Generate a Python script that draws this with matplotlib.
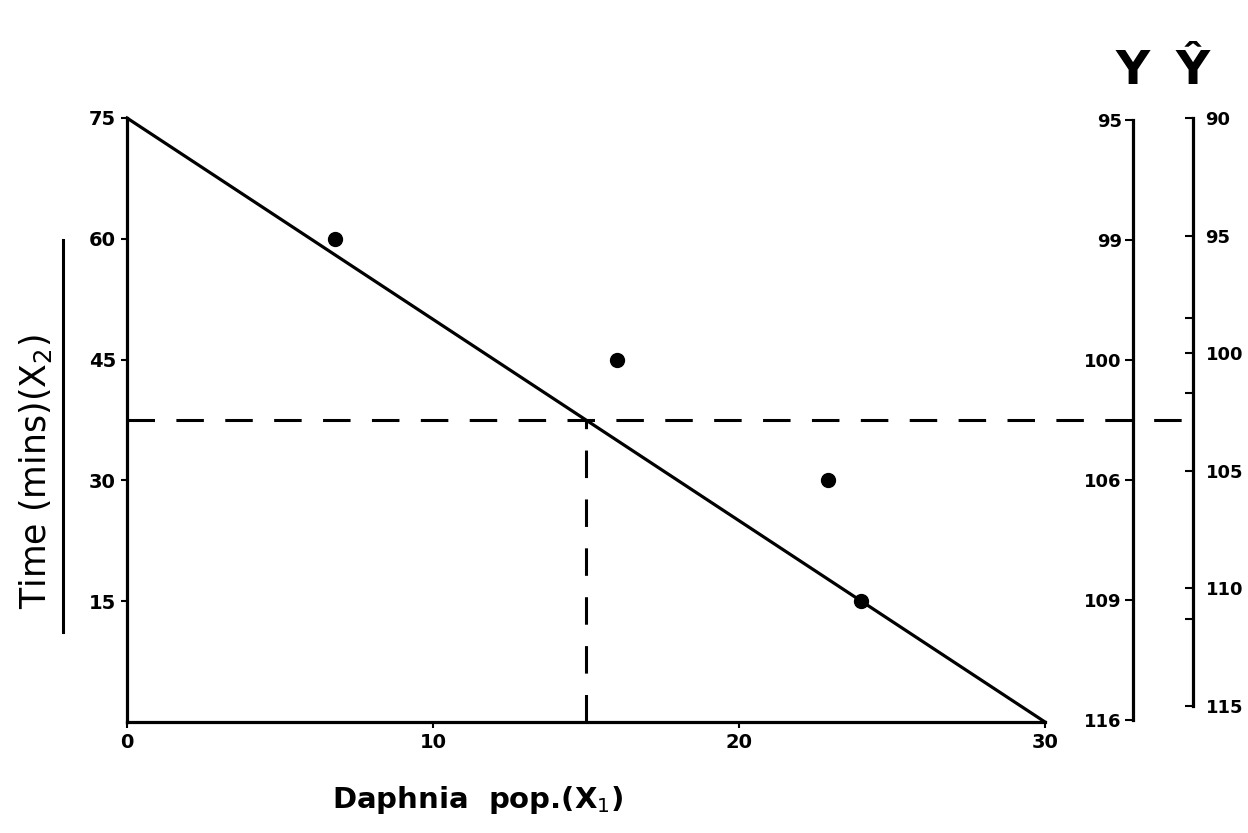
import matplotlib
matplotlib.use("Agg")
import matplotlib.pyplot as plt
import numpy as np

# ---- data ----
line_x = [0, 30]          # Daphnia pop. intercepts
line_y = [75, 0]          # Time intercepts
pts_x = [6.8, 16.0, 22.9, 24.0]
pts_y = [60, 45, 30, 15]
x_star = 15
y_star = 37.5
x_ticks = [0, 10, 20, 30]
y_ticks = [15, 30, 45, 60, 75]
Y_labels = ["95", "99", "100", "106", "109", "116"]
Yhat_ticks = [90, 95, 100, 105, 110, 115]
Yhat_minor = [98.5, 101.7, 111.3]

plt.rcParams['font.family'] = ['DejaVu Sans']
fig = plt.figure(figsize=(12.48, 8.33), dpi=100)
W, H = 1248, 833

def fx(p): return p / W
def fy(p): return 1 - p / H

lw = 2.3
ax = fig.add_axes([fx(127), fy(722), fx(1045) - fx(127), fy(118) - fy(722)])
ax.set_xlim(0, 30)
ax.set_ylim(0, 75)
for s in ["top", "right"]:
    ax.spines[s].set_visible(False)
for s in ["left", "bottom"]:
    ax.spines[s].set_linewidth(lw)
ax.set_xticks(x_ticks)
ax.set_yticks(y_ticks)
ax.tick_params(axis="both", length=4, width=1.5, labelsize=14, pad=4)
for t in ax.get_xticklabels() + ax.get_yticklabels():
    t.set_fontweight("bold")

ax.plot(line_x, line_y, color="black", lw=lw, clip_on=False)
ax.plot(pts_x, pts_y, "o", color="black", ms=10, clip_on=False)

# Y axis
axY = fig.add_axes([fx(1133), fy(720), 0.0001, fy(120) - fy(720)])
axY.set_ylim(len(Y_labels) - 1, 0)
axY.set_xticks([])
axY.set_yticks(range(len(Y_labels)))
axY.set_yticklabels(Y_labels, fontweight="bold", fontsize=13)
for s in ["top", "right", "bottom"]:
    axY.spines[s].set_visible(False)
axY.spines["left"].set_linewidth(lw)
axY.tick_params(axis="y", length=6, width=1.5, pad=2)
axY.patch.set_visible(False)

# Y-hat axis
axH = fig.add_axes([fx(1193), fy(706), 0.0001, fy(118) - fy(706)])
axH.set_ylim(115, 90)
axH.set_xticks([])
axH.set_yticks(Yhat_ticks)
axH.set_yticks(Yhat_minor, minor=True)
axH.set_yticklabels([str(v) for v in Yhat_ticks], fontweight="bold", fontsize=13)
for s in ["top", "right", "bottom"]:
    axH.spines[s].set_visible(False)
axH.spines["left"].set_linewidth(lw)
axH.tick_params(axis="y", which="both", left=True, right=False,
                labelleft=False, labelright=True, length=6, width=1.5, pad=3)
axH.patch.set_visible(False)

# dashed construction lines
fig.canvas.draw()
x_end = ax.transData.inverted().transform(fig.transFigure.transform((fx(1193), 0)))[0]
dash = (0, (9, 7))
ax.plot([0, x_end], [y_star, y_star], color="black", lw=2.2, ls=dash, clip_on=False)
ax.plot([x_star, x_star], [0, y_star], color="black", lw=2.2, ls=dash, clip_on=False)

# titles
fig.text(fx(1133), fy(72), "Y", ha="center", va="center", fontsize=34, fontweight="bold")
fig.text(fx(1193), fy(72), "\u0176", ha="center", va="center", fontsize=34, fontweight="bold")

fig.text(fx(36), fy(472), "Time (mins)(X$_2$)", rotation=90, ha="center", va="center",
         fontsize=25)
fig.add_artist(plt.Line2D([fx(63), fx(63)], [fy(632), fy(240)], color="black", lw=2.2,
                          transform=fig.transFigure))
fig.text(fx(478), fy(800), "Daphnia  pop.(X$_1$)", ha="center", va="center", fontsize=21,
         fontweight="bold")

fig.savefig("out.png", dpi=100, facecolor="white")
